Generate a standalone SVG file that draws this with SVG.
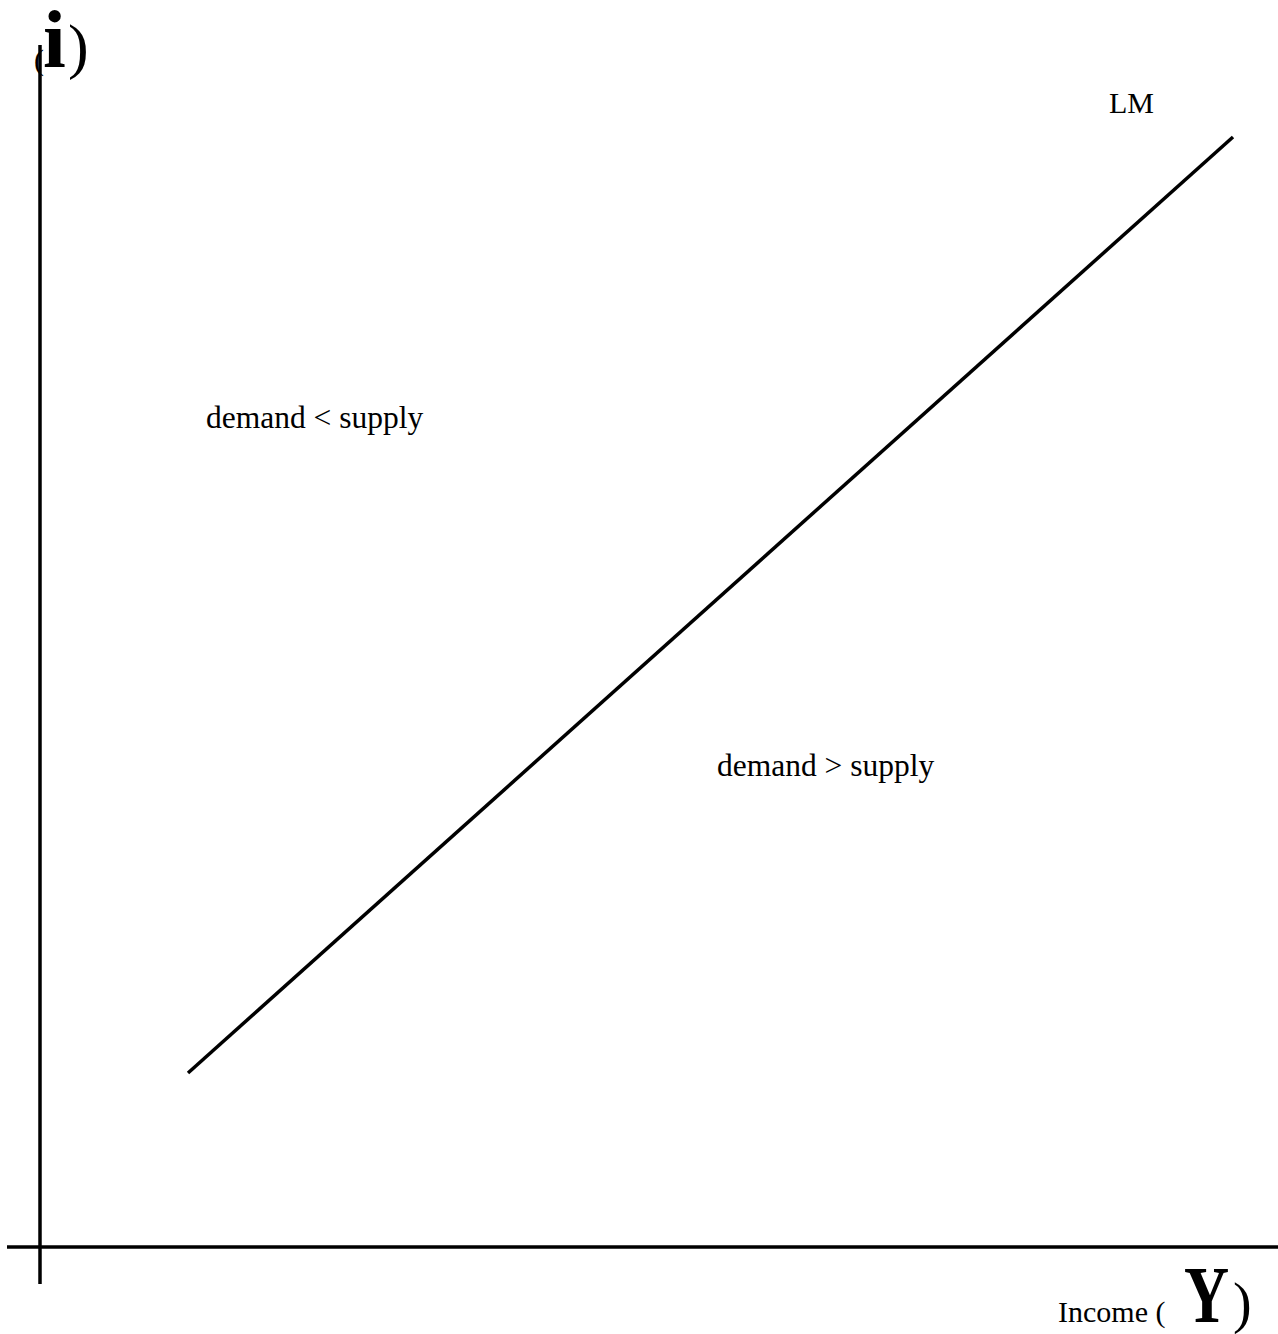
<svg xmlns="http://www.w3.org/2000/svg" width="1278" height="1334" viewBox="0 0 1278 1334">
<style>
.ln{stroke:#000;stroke-width:3.5;fill:none}
.t{font-family:"Liberation Serif","Times New Roman",serif;fill:#000}
</style>
<rect width="1278" height="1334" fill="#fff"/>
<g id="connectors">
<line class="ln" x1="40" y1="45" x2="40" y2="1284"/>
<line class="ln" x1="7" y1="1247" x2="1278" y2="1247"/>
<line id="lm-curve" class="ln" x1="188" y1="1073" x2="1233" y2="137"/>
</g>
<g id="y-axis-label">
<text class="t" x="34" y="70" font-size="30">(</text>
<text class="t" x="43" y="67" font-size="82" font-weight="bold">i</text>
<text class="t" x="68" y="67" font-size="62">)</text>
</g>
<g id="x-axis-label">
<text class="t" x="1058" y="1322" font-size="30">Income (</text>
<text class="t" x="1184" y="1322" font-size="80" font-weight="bold" transform="translate(1184 0) scale(0.78 1) translate(-1184 0)">Y</text>
<text class="t" x="1233" y="1322" font-size="56">)</text>
</g>
<g id="lm-label"><text class="t" x="1109" y="113" font-size="30">LM</text></g>
<g id="region-upper"><text class="t" x="206" y="428" font-size="31.5">demand &lt; supply</text></g>
<g id="region-lower"><text class="t" x="717" y="776" font-size="31.5">demand &gt; supply</text></g>
</svg>
